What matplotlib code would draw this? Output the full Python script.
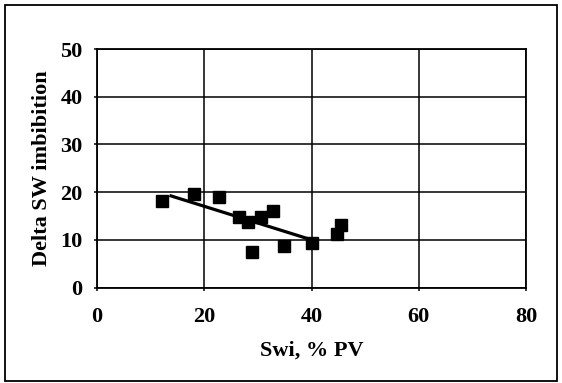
import matplotlib
matplotlib.use("Agg")
import matplotlib.pyplot as plt
from matplotlib.patches import Rectangle

swi = [12.1, 18.0, 22.8, 26.4, 28.2, 30.5, 32.8, 28.9, 34.9, 40.1, 44.7, 45.5]
delta_sw = [18.1, 19.6, 18.9, 14.8, 13.8, 14.8, 16.1, 7.5, 8.8, 9.4, 11.3, 13.2]
trend_x = [13.8, 40.0]
trend_y = [19.2, 10.0]
x_ticks = [0, 20, 40, 60, 80]
y_ticks = [0, 10, 20, 30, 40, 50]

plt.rcParams['font.family'] = ['Liberation Serif', 'DejaVu Serif']
plt.rcParams['font.weight'] = 'bold'

W, H = 562, 383
fig = plt.figure(figsize=(W / 100, H / 100), dpi=100)
ax = fig.add_axes([97 / W, 1 - 287.5 / H, (526 - 97) / W, (287.5 - 49) / H])

ax.plot(swi, delta_sw, 's', color='black', markersize=8.5, zorder=3)
ax.plot(trend_x, trend_y, '-', color='black', lw=2.3, zorder=3)

ax.set_xlim(0, 80)
ax.set_ylim(0, 50)
ax.set_xticks(x_ticks)
ax.set_yticks(y_ticks)
ax.grid(True, color='black', lw=1.1)
ax.set_axisbelow(True)
for s in ax.spines.values():
    s.set_linewidth(1.3)
ax.tick_params(direction='out', length=2.5, width=1.1, labelsize=16, color='black')
ax.tick_params(axis='x', pad=11.5)
ax.tick_params(axis='y', pad=8)
for lab in ax.get_xticklabels() + ax.get_yticklabels():
    lab.set_fontweight('bold')

ax.set_xlabel('Swi, % PV', fontsize=16, fontweight='bold', labelpad=10)
ax.set_ylabel('Delta SW imbibition', fontsize=16, fontweight='bold', labelpad=6)

fig.patches.append(Rectangle((5 / W, 1 - 381 / H), (557 - 5) / W, (381 - 5) / H,
                             transform=fig.transFigure, fill=False,
                             edgecolor='black', lw=1.3))

fig.savefig('out.png', dpi=100)
